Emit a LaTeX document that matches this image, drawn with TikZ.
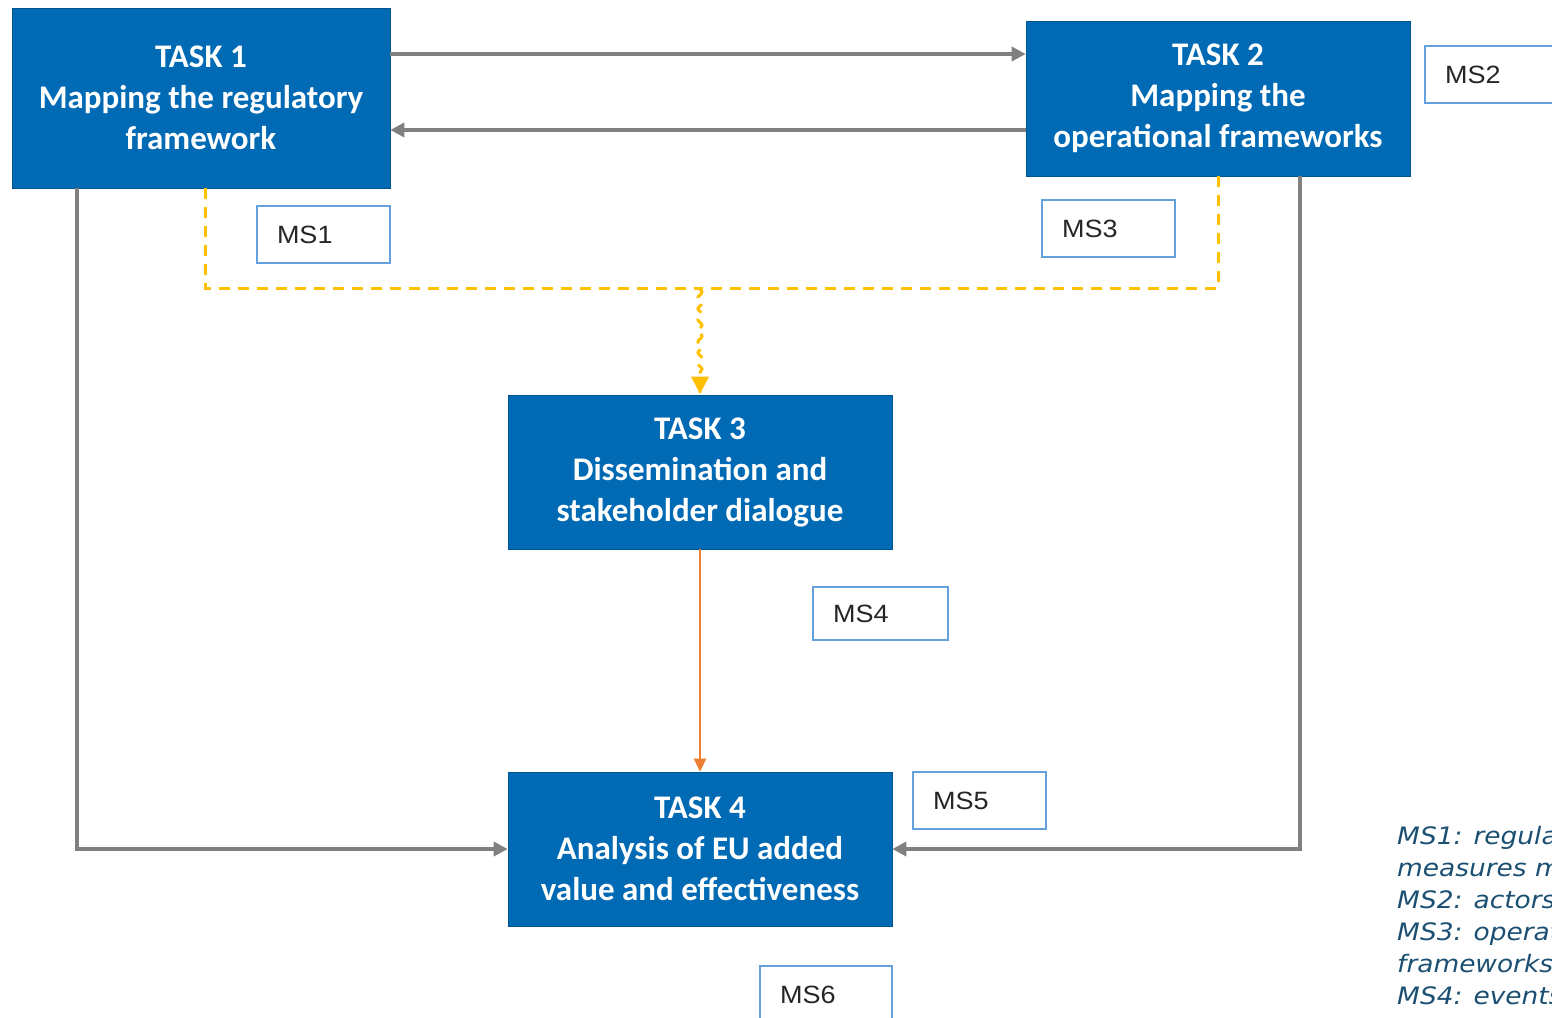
\documentclass[tikz,border=0pt]{standalone}
\usepackage{fontspec}
\usetikzlibrary{arrows.meta,decorations.pathmorphing,calc}
\newfontfamily\taskfont{Carlito}
\newfontfamily\msfont[FakeStretch=1.08]{Liberation Sans}
\newfontfamily\legfont[FakeStretch=1.1]{DejaVu Sans}
\definecolor{taskblue}{RGB}{0,106,180}
\definecolor{msblue}{RGB}{100,160,220}
\definecolor{arrgray}{RGB}{128,128,128}
\definecolor{dashyel}{RGB}{255,192,0}
\definecolor{orng}{RGB}{237,125,49}
\definecolor{legblue}{RGB}{28,80,115}
\tikzset{
  taskbox/.style={fill=taskblue, draw=taskblue!80!black, line width=0.6pt, text=white, align=center,
    font=\taskfont\bfseries\fontsize{33}{41}\selectfont, inner sep=0pt},
  msbox/.style={draw=msblue, line width=2pt, fill=white, align=left, inner xsep=20pt, inner ysep=0pt,
    font=\msfont\fontsize{25}{28}\selectfont, text=black!85},
  grayline/.style={draw=arrgray, line width=4pt, -{Triangle[length=14pt,width=14pt]}},
  yeldash/.style={draw=dashyel, line width=3pt, dash pattern=on 11pt off 8pt},
}
\begin{document}
\begin{tikzpicture}[x=1pt,y=-1pt]
\useasboundingbox (0,0) rectangle (1552,1017);
\begin{scope}
\clip (0,0) rectangle (1552,1017);
% task boxes
\node[taskbox, minimum width=378pt, minimum height=180pt] (t1) at (201,98) {TASK 1\\Mapping the regulatory\\framework};
\node[taskbox, minimum width=384pt, minimum height=155pt] (t2) at (1218,98.5) {TASK 2\\Mapping the\\operational frameworks};
\node[taskbox, minimum width=384pt, minimum height=154pt] (t3) at (700,472) {TASK 3\\Dissemination and\\stakeholder dialogue};
\node[taskbox, minimum width=384pt, minimum height=154pt] (t4) at (700,849) {TASK 4\\Analysis of EU added\\value and effectiveness};
% milestone boxes
\node[msbox, text width=93pt, minimum height=57pt] (ms1) at (323.5,234.5) {MS1};
\node[msbox, text width=93pt, minimum height=57pt] (ms2) at (1491.5,74.5) {MS2};
\node[msbox, text width=93pt, minimum height=57pt] (ms3) at (1108.5,228.5) {MS3};
\node[msbox, text width=95pt, minimum height=53pt] (ms4) at (880.5,613.5) {MS4};
\node[msbox, text width=93pt, minimum height=57pt] (ms5) at (979.5,800.5) {MS5};
\node[msbox, text width=92pt, minimum height=57pt] (ms6) at (826,994.5) {MS6};
% gray connectors
\draw[grayline] ([yshift=44pt]t1.east) -- ([yshift=44pt]t1.east -| t2.west);
\draw[grayline] ([yshift=-32pt]t1.east -| t2.west) -- ([yshift=-32pt]t1.east);
\draw[grayline] ([xshift=65pt]t1.south west) |- (t4.west);
\draw[grayline] ([xshift=82pt]t2.south) |- (t4.east);
% yellow dashed
\coordinate (j) at ([yshift=106pt]t3.north);
\draw[yeldash] ([xshift=4pt]t1.south) |- (j);
\draw[yeldash] (t2.south) |- (j);
\draw[yeldash, decorate, decoration={snake, amplitude=2pt, segment length=11pt, post length=16pt}] (j) -- ([yshift=1pt]t3.north);
\fill[dashyel] ([yshift=1pt]t3.north) -- ++(-9,-17) -- ++(18,0) -- cycle;
% orange
\draw[draw=orng, line width=2.5pt, -{Triangle[length=13pt,width=12pt]}] (t3.south) -- (t4.north);
% legend
\node[anchor=north west, align=left, inner sep=0pt, text=legblue,
  font=\legfont\itshape\fontsize{24}{32}\selectfont] (leg) at (1397,826)
  {MS1: regulatory\\measures mapped\\MS2: actors mapped\\MS3: operational\\frameworks mapped\\MS4: events};
\end{scope}
\end{tikzpicture}
\end{document}
